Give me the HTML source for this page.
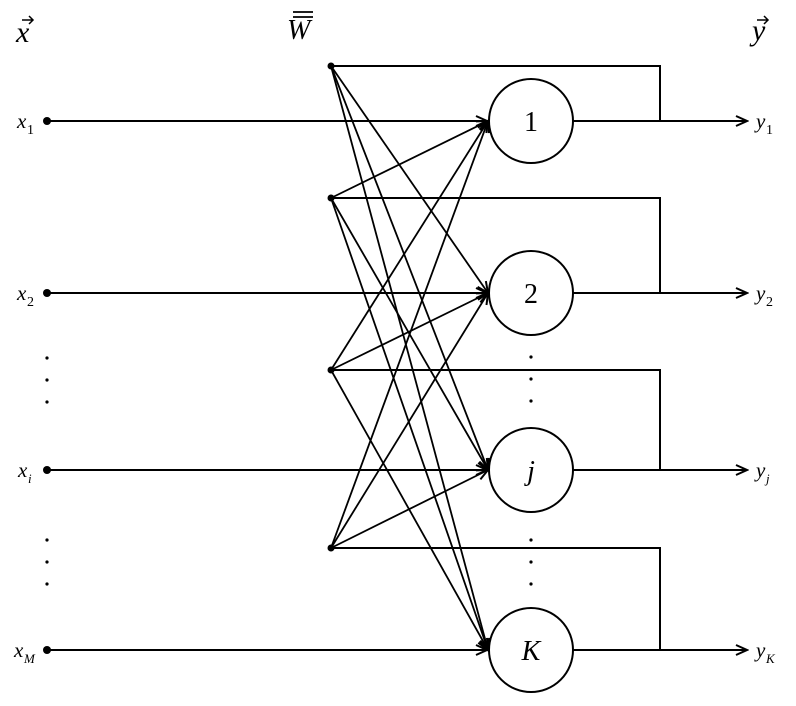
<!DOCTYPE html>
<html><head><meta charset="utf-8"><style>
html,body{margin:0;padding:0;background:#fff;}
svg{display:block;}
text{font-family:"Liberation Serif",serif;fill:#000;}
</style></head><body>
<svg width="796" height="706" viewBox="0 0 796 706" xmlns="http://www.w3.org/2000/svg">
<defs>
<marker id="a" markerWidth="14" markerHeight="12" refX="12" refY="6" orient="auto" markerUnits="userSpaceOnUse">
<path d="M1,1 L12,6 L1,11" fill="none" stroke="#000" stroke-width="2"/>
</marker>
</defs>
<g stroke="#000" stroke-width="2" fill="none">
<line x1="47" y1="121" x2="487" y2="121" marker-end="url(#a)"/>
<line x1="47" y1="293" x2="487" y2="293" marker-end="url(#a)"/>
<line x1="47" y1="470" x2="487" y2="470" marker-end="url(#a)"/>
<line x1="47" y1="650" x2="487" y2="650" marker-end="url(#a)"/>
<g stroke-width="1.8">
<line x1="331" y1="66" x2="488" y2="293" marker-end="url(#a)"/>
<line x1="331" y1="66" x2="488" y2="470" marker-end="url(#a)"/>
<line x1="331" y1="66" x2="488" y2="650" marker-end="url(#a)"/>
<line x1="331" y1="198" x2="488" y2="121" marker-end="url(#a)"/>
<line x1="331" y1="198" x2="488" y2="470" marker-end="url(#a)"/>
<line x1="331" y1="198" x2="488" y2="650" marker-end="url(#a)"/>
<line x1="331" y1="370" x2="488" y2="121" marker-end="url(#a)"/>
<line x1="331" y1="370" x2="488" y2="293" marker-end="url(#a)"/>
<line x1="331" y1="370" x2="488" y2="650" marker-end="url(#a)"/>
<line x1="331" y1="548" x2="488" y2="121" marker-end="url(#a)"/>
<line x1="331" y1="548" x2="488" y2="293" marker-end="url(#a)"/>
<line x1="331" y1="548" x2="488" y2="470" marker-end="url(#a)"/>
</g>
<polyline points="331,66 660,66 660,121"/>
<polyline points="331,198 660,198 660,293"/>
<polyline points="331,370 660,370 660,470"/>
<polyline points="331,548 660,548 660,650"/>
<line x1="573" y1="121" x2="747" y2="121" marker-end="url(#a)"/>
<line x1="573" y1="293" x2="747" y2="293" marker-end="url(#a)"/>
<line x1="573" y1="470" x2="747" y2="470" marker-end="url(#a)"/>
<line x1="573" y1="650" x2="747" y2="650" marker-end="url(#a)"/>
<circle cx="531" cy="121" r="42" fill="#fff"/>
<circle cx="531" cy="293" r="42" fill="#fff"/>
<circle cx="531" cy="470" r="42" fill="#fff"/>
<circle cx="531" cy="650" r="42" fill="#fff"/>
</g>
<g fill="#000">
<circle cx="47" cy="121" r="4"/><circle cx="47" cy="293" r="4"/><circle cx="47" cy="470" r="4"/><circle cx="47" cy="650" r="4"/>
<circle cx="331" cy="66" r="3.5"/><circle cx="331" cy="198" r="3.5"/><circle cx="331" cy="370" r="3.5"/><circle cx="331" cy="548" r="3.5"/>
<circle cx="47" cy="358" r="1.6"/><circle cx="47" cy="380" r="1.6"/><circle cx="47" cy="402" r="1.6"/>
<circle cx="47" cy="540" r="1.6"/><circle cx="47" cy="562" r="1.6"/><circle cx="47" cy="584" r="1.6"/>
<circle cx="531" cy="357" r="1.6"/><circle cx="531" cy="379" r="1.6"/><circle cx="531" cy="401" r="1.6"/>
<circle cx="531" cy="540" r="1.6"/><circle cx="531" cy="562" r="1.6"/><circle cx="531" cy="584" r="1.6"/>
</g>
<text x="16" y="42" font-size="30" font-style="italic">x</text>
<path d="M22,20 L33,20 M29,16 L33,20 L29,24" stroke="#000" stroke-width="1.5" fill="none"/>
<text x="287" y="39" font-size="28" font-style="italic">W</text>
<line x1="293" y1="12" x2="313" y2="12" stroke="#000" stroke-width="1.8"/>
<line x1="293" y1="17" x2="313" y2="17" stroke="#000" stroke-width="1.8"/>
<text x="752" y="40" font-size="30" font-style="italic">y</text>
<path d="M757,20 L768,20 M764,16 L768,20 L764,24" stroke="#000" stroke-width="1.5" fill="none"/>

<text x="17" y="128" font-size="21" font-style="italic">x</text><text x="27" y="134" font-size="14">1</text>
<text x="17" y="300" font-size="21" font-style="italic">x</text><text x="27" y="306" font-size="14">2</text>
<text x="18" y="477" font-size="21" font-style="italic">x</text><text x="28" y="483" font-size="13" font-style="italic">i</text>
<text x="14" y="657" font-size="21" font-style="italic">x</text><text x="24" y="663" font-size="13" font-style="italic">M</text>

<text x="756" y="128" font-size="21" font-style="italic">y</text><text x="766" y="134" font-size="14">1</text>
<text x="756" y="300" font-size="21" font-style="italic">y</text><text x="766" y="306" font-size="14">2</text>
<text x="756" y="477" font-size="21" font-style="italic">y</text><text x="766" y="483" font-size="13" font-style="italic">j</text>
<text x="756" y="657" font-size="21" font-style="italic">y</text><text x="766" y="663" font-size="13" font-style="italic">K</text>

<text x="531" y="131" font-size="28" text-anchor="middle">1</text>
<text x="531" y="303" font-size="28" text-anchor="middle">2</text>
<text x="531" y="480" font-size="28" font-style="italic" text-anchor="middle">j</text>
<text x="531" y="660" font-size="28" font-style="italic" text-anchor="middle">K</text>
</svg>
</body></html>
